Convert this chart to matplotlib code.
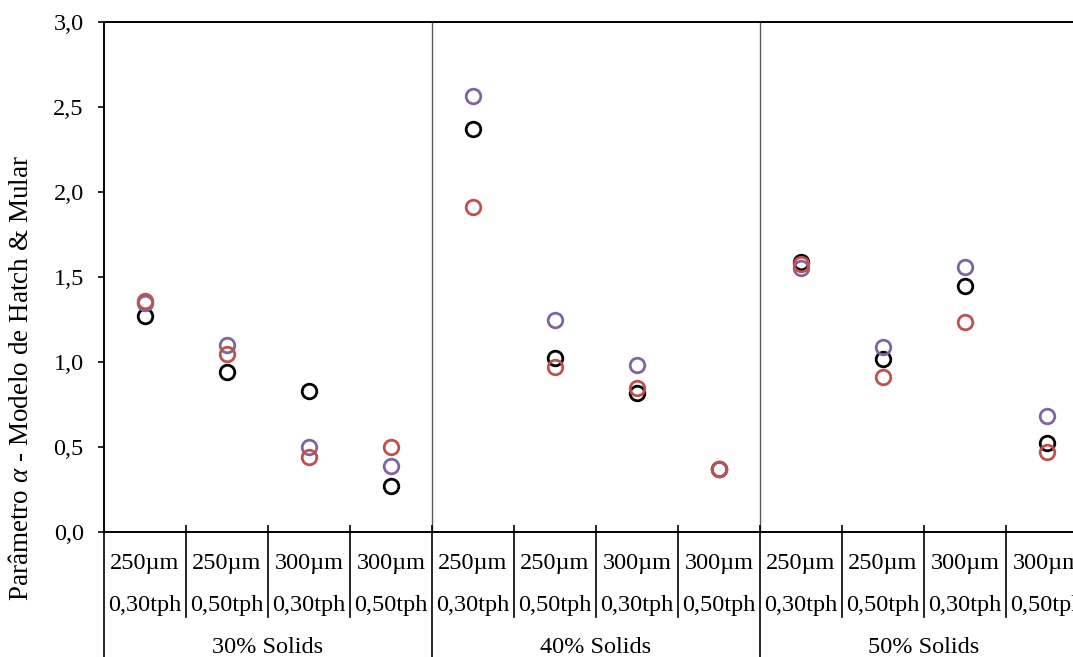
import matplotlib
matplotlib.use("Agg")
import matplotlib.pyplot as plt
from matplotlib.ticker import FuncFormatter, FixedLocator
from matplotlib.transforms import blended_transform_factory

plt.rcParams["font.family"] = ["Liberation Serif", "DejaVu Serif"]
plt.rcParams["mathtext.fontset"] = "custom"
plt.rcParams["mathtext.rm"] = "Liberation Serif"
plt.rcParams["mathtext.it"] = "Liberation Serif:italic"

# Test conditions: particle size / feed rate, grouped by solids content
sizes = ["250µm", "250µm", "300µm", "300µm"] * 3
rates = ["0,30tph", "0,50tph", "0,30tph", "0,50tph"] * 3
groups = ["30% Solids", "40% Solids", "50% Solids"]

# Hatch & Mular alpha parameter for three series
alpha_black = [1.27, 0.94, 0.83, 0.27, 2.37, 1.025, 0.82, 0.37, 1.59, 1.02, 1.45, 0.525]
alpha_purple = [1.35, 1.10, 0.50, 0.39, 2.565, 1.25, 0.98, 0.37, 1.555, 1.09, 1.56, 0.68]
alpha_red = [1.36, 1.045, 0.44, 0.50, 1.91, 0.97, 0.845, 0.37, 1.575, 0.91, 1.235, 0.47]

W, H = 1073, 657
fig = plt.figure(figsize=(W / 100, H / 100), dpi=100)
ax = fig.add_axes([104 / W, (H - 532) / H, 984 / W, 510 / H])

x = list(range(len(sizes)))
mk = dict(marker="o", linestyle="none", markersize=10.5, markeredgewidth=2.0,
          markerfacecolor="none", clip_on=False)
ax.plot(x, alpha_black, markeredgecolor="black", zorder=3, **mk)
ax.plot(x, alpha_purple, markeredgecolor="#8064A2", zorder=4, **mk)
ax.plot(x, alpha_red, markeredgecolor="#C0504D", zorder=5, **mk)

ax.set_xlim(-0.5, len(sizes) - 0.5)
ax.set_ylim(0, 3.0)
ax.yaxis.set_major_locator(FixedLocator([0, 0.5, 1.0, 1.5, 2.0, 2.5, 3.0]))
ax.yaxis.set_major_formatter(FuncFormatter(lambda v, p: f"{v:.1f}".replace(".", ",")))
ax.tick_params(axis="y", direction="out", length=4.5, width=1.2, labelsize=17.5, pad=10)
ax.xaxis.set_major_locator(FixedLocator([i + 0.5 for i in range(len(sizes) - 1)]))
ax.tick_params(axis="x", direction="in", length=5, width=1.2, labelbottom=False)

for side in ("left", "top", "bottom"):
    ax.spines[side].set_linewidth(1.4)
    ax.spines[side].set_color("black")
ax.spines["right"].set_visible(False)

# group dividers inside the plot
for b in (3.5, 7.5):
    ax.axvline(b, color="#595959", linewidth=1.0, zorder=1)

trans = blended_transform_factory(ax.transData, ax.transAxes)
# category dividers under the axis
for i in range(len(sizes) - 1):
    b = i + 0.5
    if (i + 1) % 4 == 0:
        continue
    ax.plot([b, b], [0, -0.167], color="black", linewidth=1.2,
            transform=trans, clip_on=False)
# group dividers under the axis
for b in (-0.5, 3.5, 7.5, 11.5):
    ax.plot([b, b], [0, -0.30], color="black", linewidth=1.2,
            transform=trans, clip_on=False)

for i in x:
    ax.text(i, -0.061, sizes[i], transform=trans, ha="center", va="center", fontsize=17.5)
    ax.text(i, -0.145, rates[i], transform=trans, ha="center", va="center", fontsize=17.5)
for g, name in enumerate(groups):
    ax.text(g * 4 + 1.5, -0.2255, name, transform=trans, ha="center", va="center",
            fontsize=17.5)

fig.text(22 / W, (H - 378) / H, r"Parâmetro $\alpha$ - Modelo de Hatch & Mular",
         rotation=90, ha="center", va="center", fontsize=19.5)

fig.savefig("out.png", dpi=100)
